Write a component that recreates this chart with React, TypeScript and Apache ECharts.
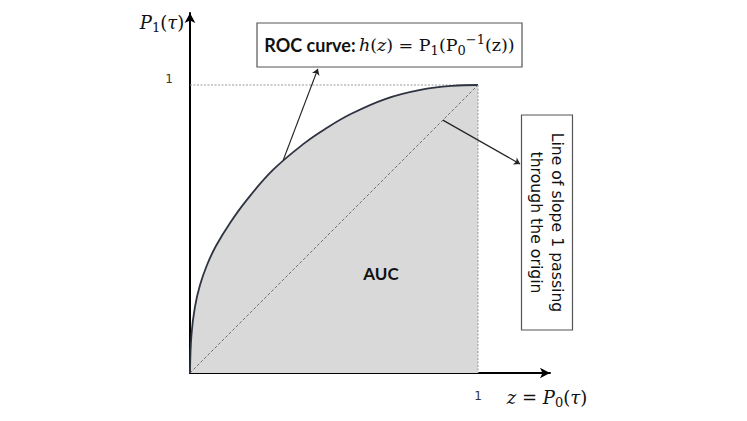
import React, { useEffect, useRef } from "react";
import * as echarts from "echarts";

// ROC curve points (z = P0(tau), h = P1(tau))
const zValues = [0, 0.005, 0.017, 0.035, 0.059, 0.09, 0.139, 0.194, 0.288, 0.4, 0.47, 0.56, 0.68, 0.8, 0.91, 1];
const hValues = [0, 0.132, 0.229, 0.306, 0.375, 0.441, 0.521, 0.597, 0.705, 0.8, 0.848, 0.9, 0.952, 0.983, 0.997, 1];

const diagonalLine = [[0, 0], [1, 1]];
const refHorizontal = [[0, 1], [1, 1]];
const refVertical = [[1, 1], [1, 0]];
const rocArrow = [[0.324, 0.74], [0.444, 1.056]];
const slopeArrow = [[0.878, 0.878], [1.146, 0.726]];
const tickLabels = ["1"];

export default function App() {
  const ref = useRef<HTMLDivElement>(null);
  useEffect(() => {
    document.body.style.margin = "0";
    const chart = echarts.init(ref.current!, null, { renderer: "svg" });
    const curve = zValues.map((z, i) => [z, hValues[i]]);
    const axisBase = (extra: object) => ({
      type: "value",
      min: 0,
      max: 1.25,
      interval: 1,
      axisLine: {
        show: true,
        onZero: false,
        symbol: ["none", "arrow"],
        symbolSize: [8, 10],
        lineStyle: { color: "#000", width: 2 },
      },
      axisTick: { show: false },
      splitLine: { show: false },
      axisLabel: {
        margin: 17,
        fontSize: 12,
        color: "#333",
        fontFamily: "DejaVu Sans",
        formatter: (v: number) => (v === 1 ? tickLabels[0] : ""),
        ...extra,
      },
    });
    const mathRich = (size: number) => ({
      i: { fontFamily: "DejaVu Serif", fontStyle: "italic", fontSize: size, lineHeight: 24, verticalAlign: "middle", fill: "#111" },
      m: { fontFamily: "DejaVu Serif", fontSize: size, lineHeight: 24, verticalAlign: "middle", fill: "#111" },
      sub: { fontFamily: "DejaVu Serif", fontSize: Math.round(size * 0.72), lineHeight: 13, verticalAlign: "bottom", fill: "#111" },
      sup: { fontFamily: "DejaVu Serif", fontSize: Math.round(size * 0.72), lineHeight: 13, verticalAlign: "top", fill: "#111" },
    });
    chart.setOption({
      animation: false,
      grid: { left: 190, top: 13, width: 360, height: 360 },
      xAxis: axisBase({}),
      yAxis: axisBase({ verticalAlign: "bottom", lineHeight: 12 }),
      series: [
        {
          type: "line",
          data: curve,
          smooth: 0.4,
          showSymbol: false,
          lineStyle: { color: "#2e3340", width: 1.8 },
          areaStyle: { color: "#d9d9d9", opacity: 1 },
          z: 2,
        },
        {
          type: "line",
          data: diagonalLine,
          showSymbol: false,
          lineStyle: { color: "#555", width: 0.8, type: [3, 2] },
          z: 3,
        },
        {
          type: "line",
          data: refHorizontal,
          showSymbol: false,
          lineStyle: { color: "#9a9a9a", width: 1, type: [2, 1.5] },
          z: 1,
        },
        {
          type: "line",
          data: refVertical,
          showSymbol: false,
          lineStyle: { color: "#9a9a9a", width: 1, type: [2, 1.5] },
          z: 3,
        },
        {
          type: "lines",
          coordinateSystem: "cartesian2d",
          symbol: ["none", "arrow"],
          symbolSize: 6,
          lineStyle: { color: "#222", width: 1.2, opacity: 1 },
          data: [{ coords: rocArrow }, { coords: slopeArrow }],
          z: 4,
        },
      ],
      graphic: [
        {
          type: "rect",
          shape: { x: 257, y: 23, width: 265, height: 44 },
          style: { fill: "#fff", stroke: "#555", lineWidth: 1.2 },
          z: 10,
        },
        {
          type: "text",
          x: 389.5,
          y: 45,
          z: 11,
          style: {
            text: "{b|ROC curve:} {i|h}{m|(}{i|z}{m|) = P}{sub|1}{m|(P}{sub|0}{sup|−1}{m|(z))}",
            align: "center",
            verticalAlign: "middle",
            rich: {
              ...mathRich(17.5),
              b: { fontFamily: "Lato", fontWeight: "bold", fontSize: 18, lineHeight: 24, verticalAlign: "middle", fill: "#111" },
            },
          },
        },
        {
          type: "rect",
          shape: { x: 521.5, y: 115, width: 51, height: 215 },
          style: { fill: "#fff", stroke: "#555", lineWidth: 1.2 },
          z: 10,
        },
        {
          type: "text",
          x: 547,
          y: 222.5,
          rotation: -Math.PI / 2,
          z: 11,
          style: {
            text: "Line of slope 1 passing\nthrough the origin",
            align: "center",
            verticalAlign: "middle",
            fontFamily: "DejaVu Sans",
            fontSize: 15.7,
            lineHeight: 21,
            fill: "#111",
          },
        },
        {
          type: "text",
          x: 381,
          y: 273,
          z: 11,
          style: {
            text: "AUC",
            align: "center",
            verticalAlign: "middle",
            fontFamily: "Lato",
            fontWeight: "bold",
            fontSize: 17,
            fill: "#111",
          },
        },
        {
          type: "text",
          x: 162,
          y: 22,
          z: 11,
          style: {
            text: "{i|P}{sub|1}{m|(}{i|τ}{m|)}",
            align: "center",
            verticalAlign: "middle",
            rich: mathRich(18),
          },
        },
        {
          type: "text",
          x: 547,
          y: 397,
          z: 11,
          style: {
            text: "{i|z}{m| = }{i|P}{sub|0}{m|(}{i|τ}{m|)}",
            align: "center",
            verticalAlign: "middle",
            rich: mathRich(18),
          },
        },
      ],
    });
    return () => chart.dispose();
  }, []);
  return <div ref={ref} style={{ width: 747, height: 421 }} />;
}
